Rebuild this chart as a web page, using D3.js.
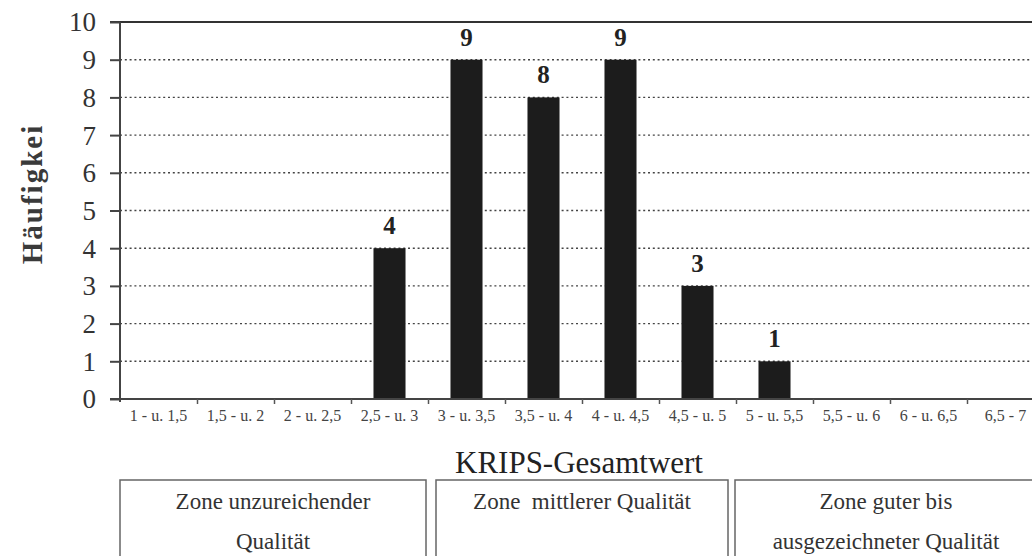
<!DOCTYPE html>
<html><head><meta charset="utf-8">
<script src="https://cdn.jsdelivr.net/npm/d3@7"></script>
<style>
html,body{margin:0;padding:0;background:#fff;}
svg{display:block;}
text{font-family:"Liberation Serif","DejaVu Serif",serif;}
</style></head>
<body>
<svg id="c" width="1032" height="556"></svg>
<script>
const categories = ["1 - u. 1,5","1,5 - u. 2","2 - u. 2,5","2,5 - u. 3","3 - u. 3,5","3,5 - u. 4","4 - u. 4,5","4,5 - u. 5","5 - u. 5,5","5,5 - u. 6","6 - u. 6,5","6,5 - 7"];
const values = [0,0,0,4,9,8,9,3,1,0,0,0];
const yTicks = [0,1,2,3,4,5,6,7,8,9,10];
const zones = [
  {lines:["Zone unzureichender","Qualität"]},
  {lines:["Zone  mittlerer Qualität"]},
  {lines:["Zone guter bis","ausgezeichneter Qualität"]}
];
const yTitle = "Häufigkei";
const xTitle = "KRIPS-Gesamtwert";

const svg = d3.select("#c");
const L = 120, R = 1044, T = 22, B = 399;
const y = d3.scaleLinear().domain([0,10]).range([B,T]);
const xPos = d3.scaleLinear().domain([0,12]).range([L,R]);
const xBand = d3.scaleBand().domain(categories).range([L,R]).paddingInner(0.584).paddingOuter(0.292);
const xCat = d3.scaleBand().domain(categories).range([L,R]).padding(0);

// grid lines (dotted)
svg.append("g").selectAll("line").data(yTicks.filter(v=>v>0&&v<10)).join("line")
  .attr("x1",L).attr("x2",R).attr("y1",d=>y(d)).attr("y2",d=>y(d))
  .attr("stroke","#444").attr("stroke-width",1.4).attr("stroke-dasharray","2,2.8");
// top border
svg.append("line").attr("x1",L-10).attr("x2",R).attr("y1",y(10)).attr("y2",y(10))
  .attr("stroke","#333").attr("stroke-width",2);

// bars
svg.append("g").selectAll("rect").data(values.map((v,i)=>({c:categories[i],v}))).join("rect")
  .attr("x",d=>xBand(d.c)).attr("width",xBand.bandwidth())
  .attr("y",d=>y(d.v)).attr("height",d=>B-y(d.v))
  .attr("fill","#1c1c1c");

// bar labels
svg.append("g").selectAll("text").data(values.map((v,i)=>({c:categories[i],v})).filter(d=>d.v>0)).join("text")
  .attr("x",d=>xCat(d.c)+xCat.bandwidth()/2).attr("y",d=>y(d.v)-14)
  .attr("text-anchor","middle").attr("font-size",25).attr("font-weight","bold").attr("fill","#222")
  .text(d=>d.v);

// y axis
const ya = svg.append("g").attr("transform",`translate(${L},0)`)
  .call(d3.axisLeft(y).tickValues(yTicks).tickSize(10).tickPadding(14).tickFormat(d3.format("d")));
ya.select(".domain").attr("stroke","#444").attr("stroke-width",2).attr("d",`M0,${T}V${B+3}`);
ya.selectAll(".tick line").attr("stroke","#444").attr("stroke-width",2);
ya.selectAll(".tick text").attr("font-size",27).attr("fill","#333").attr("font-family","Liberation Serif, serif").attr("dy","0.33em");

// x axis (boundary ticks)
const xa = svg.append("g").attr("transform",`translate(0,${B})`)
  .call(d3.axisBottom(xPos).tickValues(d3.range(1,12)).tickSize(5).tickFormat(""));
xa.select(".domain").attr("stroke","#444").attr("stroke-width",2).attr("d",`M${L-10},0H${R}`);
xa.selectAll(".tick line").attr("stroke","#555").attr("stroke-width",1.5);

// category labels
const xl = svg.append("g").attr("transform",`translate(0,${B})`)
  .call(d3.axisBottom(xCat).tickSize(0).tickPadding(11));
xl.select(".domain").remove();
xl.selectAll(".tick text").attr("font-size",16).attr("fill","#444").attr("font-family","Liberation Serif, serif");

// axis titles
svg.append("text").attr("transform","translate(42,194) rotate(-90)").attr("text-anchor","middle")
  .attr("font-size",29).attr("font-weight","bold").attr("letter-spacing",2).attr("fill","#3a3a3a").text(yTitle);
svg.append("text").attr("x",579).attr("y",473).attr("text-anchor","middle")
  .attr("font-size",31).attr("fill","#222").text(xTitle);

// zone boxes
const boxEdges = [[120,426],[436,728],[735,1037]];
const zg = svg.append("g");
zones.forEach((z,i)=>{
  const [x1,x2] = boxEdges[i];
  zg.append("rect").attr("x",x1).attr("y",480).attr("width",x2-x1).attr("height",100)
    .attr("fill","none").attr("stroke","#666").attr("stroke-width",1.5);
  z.lines.forEach((t,j)=>{
    zg.append("text").attr("x",(x1+x2)/2).attr("y",509+j*40).attr("text-anchor","middle")
      .attr("font-size",23).attr("fill","#333").style("white-space","pre").text(t);
  });
});
</script>
</body></html>
